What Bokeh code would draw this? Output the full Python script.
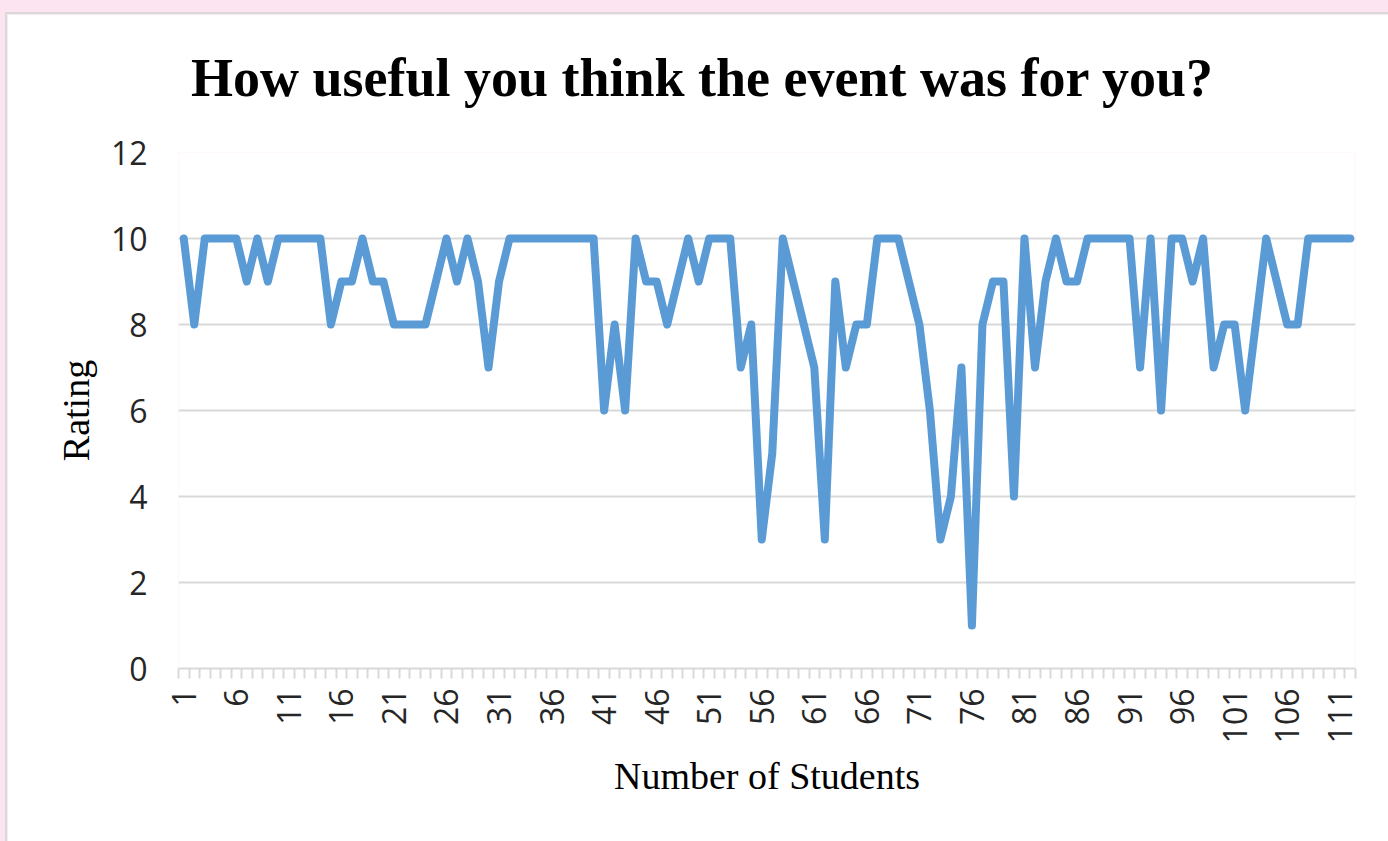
import math
from bokeh.plotting import figure
from bokeh.layouts import column
from bokeh.models import FixedTicker, Range1d, ColumnDataSource, Label
from bokeh.embed import file_html
from bokeh.resources import INLINE

students = list(range(1, 113))
ratings = [
    10, 8, 10, 10, 10, 10, 9, 10, 9, 10,
    10, 10, 10, 10, 8, 9, 9, 10, 9, 9,
    8, 8, 8, 8, 9, 10, 9, 10, 9, 7,
    9, 10, 10, 10, 10, 10, 10, 10, 10, 10,
    6, 8, 6, 10, 9, 9, 8, 9, 10, 9,
    10, 10, 10, 7, 8, 3, 5, 10, 9, 8,
    7, 3, 9, 7, 8, 8, 10, 10, 10, 9,
    8, 6, 3, 4, 7, 1, 8, 9, 9, 4,
    10, 7, 9, 10, 9, 9, 10, 10, 10, 10,
    10, 7, 10, 6, 10, 10, 9, 10, 7, 8,
    8, 6, 8, 10, 9, 8, 8, 10, 10, 10,
    10, 10,
]
x_tick_values = list(range(1, 113, 5))
y_tick_values = [0, 2, 4, 6, 8, 10, 12]

title_text = "How useful you think the event was for you?"
x_label = "Number of Students"
y_label = "Rating"

source = ColumnDataSource(data=dict(x=students, y=ratings))

p = figure(
    width=1383, height=829,
    output_backend="svg", toolbar_location=None,
    x_range=Range1d(0.5, 112.5), y_range=Range1d(0, 12),
    min_border_left=171, min_border_right=35,
    min_border_top=138, min_border_bottom=175,
)
p.margin = (12, 0, 0, 5)
p.styles = {"border-left": "2px solid #d9d9d9", "border-top": "2px solid #d9d9d9"}
p.background_fill_color = "white"
p.border_fill_color = "white"
p.outline_line_color = None

# chart title placed in the panel above the plot frame
title = Label(
    x=524, y=75, x_units="screen", y_units="screen",
    text=title_text, text_align="center", text_baseline="alphabetic",
    text_font="Liberation Serif", text_font_style="bold",
    text_font_size="54px", text_color="black",
)
p.add_layout(title, "above")

p.line("x", "y", source=source, line_color="#5B9BD5", line_width=8,
       line_join="round", line_cap="round")

# grid
p.xgrid.grid_line_color = None
p.ygrid.grid_line_color = "#d9d9d9"
p.ygrid.grid_line_width = 2
p.ygrid.ticker = FixedTicker(ticks=y_tick_values)

# x axis
xa = p.xaxis[0]
xa.ticker = FixedTicker(ticks=x_tick_values, minor_ticks=[i + 0.5 for i in range(0, 113)])
xa.axis_line_color = "#d9d9d9"
xa.axis_line_width = 2
xa.major_tick_line_color = None
xa.major_tick_out = 10
xa.major_tick_in = 0
xa.minor_tick_line_color = "#d9d9d9"
xa.minor_tick_line_width = 2
xa.minor_tick_out = 10
xa.minor_tick_in = 0
xa.major_label_orientation = math.pi / 2
xa.major_label_standoff = 10
xa.major_label_text_font = "Open Sans"
xa.major_label_text_font_size = "32px"
xa.major_label_text_color = "#262626"
xa.axis_label = x_label
xa.axis_label_text_font = "Liberation Serif"
xa.axis_label_text_font_style = "normal"
xa.axis_label_text_font_size = "38px"
xa.axis_label_text_color = "black"
xa.axis_label_standoff = 9

# y axis
ya = p.yaxis[0]
ya.ticker = FixedTicker(ticks=y_tick_values)
ya.axis_line_color = None
ya.major_tick_line_color = None
ya.minor_tick_line_color = None
ya.major_tick_out = 0
ya.major_label_standoff = 31
ya.major_label_text_font = "Open Sans"
ya.major_label_text_font_size = "32px"
ya.major_label_text_color = "#262626"
ya.axis_label = y_label
ya.axis_label_text_font = "Liberation Serif"
ya.axis_label_text_font_style = "normal"
ya.axis_label_text_font_size = "38px"
ya.axis_label_text_color = "black"
ya.axis_label_standoff = 11

layout = column(p, styles={"background-color": "#fce4f0"})

open("out.html", "w").write(file_html(layout, INLINE))
